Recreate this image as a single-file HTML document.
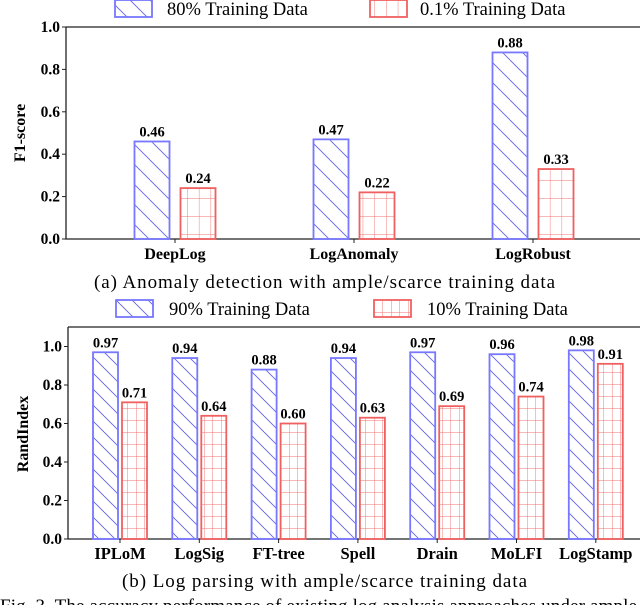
<!DOCTYPE html>
<html><head><meta charset="utf-8">
<style>
html,body{margin:0;padding:0;background:#fff;}
svg{display:block;font-family:"Liberation Serif",serif;}
</style></head>
<body>
<svg id="fig" width="640" height="605" viewBox="0 0 640 605" xmlns="http://www.w3.org/2000/svg">
<defs>
<pattern id="hatchA" patternUnits="userSpaceOnUse" width="20" height="20">
<path d="M-10,0 L10,20 M0,-10 L20,10 M10,0 L30,20" stroke="#6666ee" stroke-width="0.9"/>
</pattern>
<pattern id="gridA" patternUnits="userSpaceOnUse" width="11.7" height="18">
<path d="M0,0 H11.7 M0,0 V18" stroke="#f07070" stroke-width="0.9"/>
</pattern>
<pattern id="hatchB" patternUnits="userSpaceOnUse" width="16" height="16">
<path d="M-8,0 L8,16 M0,-8 L16,8 M8,0 L24,16" stroke="#6666ee" stroke-width="0.9"/>
</pattern>
<pattern id="gridB" patternUnits="userSpaceOnUse" width="8.5" height="12">
<path d="M0,0 H8.5 M0,0 V12" stroke="#f07070" stroke-width="0.9"/>
</pattern>
</defs>
<g id="chartA"></g>
<g id="chartB"></g>
<text x="94" y="288" font-size="19" textLength="461" lengthAdjust="spacing">(a)  Anomaly detection with ample/scarce training data</text>
<text x="122" y="587" font-size="19" textLength="405" lengthAdjust="spacing">(b)  Log parsing with ample/scarce training data</text>
<text x="0" y="612" font-size="19" textLength="760" lengthAdjust="spacing">Fig. 3.  The accuracy performance of existing log analysis approaches under ample and scarce data</text>
</svg>
<script>
const catsA = ["DeepLog","LogAnomaly","LogRobust"];
const ampleA = [0.46,0.47,0.88];
const scarceA = [0.24,0.22,0.33];
const ticksA = ["0.0","0.2","0.4","0.6","0.8","1.0"];
const catsB = ["IPLoM","LogSig","FT-tree","Spell","Drain","MoLFI","LogStamp"];
const ampleB = [0.97,0.94,0.88,0.94,0.97,0.96,0.98];
const scarceB = [0.71,0.64,0.60,0.63,0.69,0.74,0.91];
const ticksB = ["0.0","0.2","0.4","0.6","0.8","1.0"];
const NS="http://www.w3.org/2000/svg";
function mk(tag,attrs,parent,txt){const e=document.createElementNS(NS,tag);for(const k in attrs)e.setAttribute(k,attrs[k]);if(txt!==undefined)e.textContent=txt;parent.appendChild(e);return e;}
function draw(g,o){
  const y=v=>o.y0-(v-0)/(1)*(o.y0-o.y1);
  const x=i=>o.cx0+i*o.step;
  let f=mk('path',{d:`M${o.left},${o.ftop} H645 M${o.left},${o.ftop} V${o.y0} H645`,stroke:'#222','stroke-width':1.3,fill:'none'},g);
  
  
  o.ticks.forEach(t=>{const v=parseFloat(t);
    let l=mk('line',{x1:o.left-4,x2:o.left,y1:y(v),y2:y(v),stroke:'#222'},g);
    
    
    let tx=mk('text',{x:o.left-6,y:y(v)+5,'font-size':15.5,'font-weight':'bold','text-anchor':'end'},g,t);
    
    
  });
  o.cats.forEach((c,i)=>{
    const cx=x(i);
    let l=mk('line',{x1:cx,x2:cx,y1:o.y0,y2:o.y0+4,stroke:'#222'},g);
    
    
    let t=mk('text',{x:cx,y:o.y0+20,'font-size':o.xfs,'font-weight':'bold','text-anchor':'middle'},g,c);
    
    
    [[o.ample[i],o.hatch,'#7777ff',-1],[o.scarce[i],o.grid,'#f06060',1]].forEach(([v,fill,st,s])=>{
      const bx=s<0?cx-o.gap/2-o.bw:cx+o.gap/2;
      let r=mk('rect',{x:bx,y:y(v),width:o.bw,height:o.y0-y(v),fill:fill,stroke:st,'stroke-width':1.8},g);
      
      
      let vt=mk('text',{x:bx+o.bw/2,y:y(v)-5,'font-size':14.5,'font-weight':'bold','text-anchor':'middle'},g,v.toFixed(2));
      
      
    });
  });
  let yt=mk('text',{x:0,y:0,'font-size':16,'font-weight':'bold','text-anchor':'middle',transform:`translate(${o.ylx},${o.yly}) rotate(-90)`},g,o.ylabel);
  
  
  o.legend.forEach((L,k)=>{
    let r=mk('rect',{x:L.x,y:o.ly,width:37,height:17,fill:k?o.grid:o.hatch,stroke:k?'#f06060':'#7777ff','stroke-width':1.8},g);
    
    
    let t=mk('text',{x:L.tx,y:o.ly+15,'font-size':18.5},g,L.t);
    
    
  });
}
draw(document.getElementById('chartA'),{left:66,ftop:27,y0:239,y1:27,cx0:175,step:179,bw:35,gap:11,xfs:16,hatch:'url(#hatchA)',grid:'url(#gridA)',cats:catsA,ample:ampleA,scarce:scarceA,ticks:ticksA,ylabel:'F1-score',ylx:25,yly:133,ly:0,legend:[{x:115,tx:167,t:'80% Training Data'},{x:370,tx:420,t:'0.1% Training Data'}]});
draw(document.getElementById('chartB'),{left:68,ftop:327,y0:539,y1:346.5,cx0:120,step:79.3,bw:25,gap:4,xfs:16.5,hatch:'url(#hatchB)',grid:'url(#gridB)',cats:catsB,ample:ampleB,scarce:scarceB,ticks:ticksB,ylabel:'RandIndex',ylx:28,yly:434,ly:300,legend:[{x:116,tx:169,t:'90% Training Data'},{x:374,tx:427,t:'10% Training Data'}]});
</script>
</body></html>
